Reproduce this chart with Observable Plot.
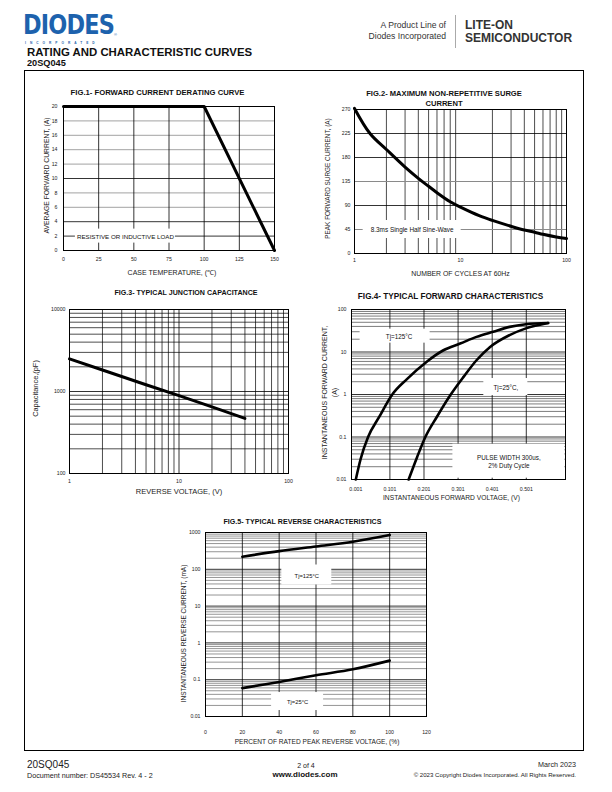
<!DOCTYPE html>
<html><head><meta charset="utf-8">
<script src="https://cdn.jsdelivr.net/npm/d3@7"></script>
<script src="https://cdn.jsdelivr.net/npm/@observablehq/plot@0.6"></script>
<style>
body{margin:0;background:#fff;font-family:"Liberation Sans",Arial,sans-serif;}
#page{position:relative;width:612px;height:792px;overflow:hidden;background:#fff;}
svg{overflow:visible;}
</style></head><body><div id="page"></div>
<script>
// ---------- DATA ----------
// Fig.1 Forward current derating curve
const fig1TempC = [0, 100, 150];
const fig1CurrentA = [20, 20, 0];
const fig1XTicks = [0, 25, 50, 75, 100, 125, 150];
const fig1YTicks = [0, 2, 4, 6, 8, 10, 12, 14, 16, 18, 20];
const fig1GridX = [25, 50, 75, 100, 125];
const fig1GridDarkY = [2, 4, 10];
const fig1GridLightY = [6, 8, 12, 14, 16, 18];
const fig1Note = [{text: "RESISTIVE OR INDUCTIVE LOAD", x: 44, y: 2}];

// Fig.2 Maximum non-repetitive surge current
const fig2Cycles = [1, 1.4, 2, 3, 4, 5, 6, 8, 10, 15, 20, 30, 40, 50, 60, 80, 100];
const fig2SurgeA = [272, 225, 195, 162, 141, 126, 114, 97, 87, 71, 62, 51, 44, 40, 36, 31, 28];
const fig2XTicks = [1, 10, 100];
const fig2YTicks = [0, 45, 90, 135, 180, 225, 270];
const fig2GridDarkY = [90, 180, 225];
const fig2GridLightY = [45, 135, 270];
const fig2Note = [{text: "8.3ms Single Half Sine-Wave", x: 3.5, y: 45}];

// Fig.3 Typical junction capacitance
const fig3Voltage = [1, 2, 5, 10, 20, 40];
const fig3CapPF = [2500, 1830, 1210, 890, 650, 470];
const fig3XTicks = [1, 10, 100];
const fig3YTicks = [100, 1000, 10000];

// Fig.4 Typical forward characteristics
const fig4V125 = [0.001, 0.015, 0.037, 0.07, 0.108, 0.151, 0.21, 0.258, 0.307, 0.355, 0.404, 0.452, 0.5, 0.565];
const fig4I125 = [0.01, 0.03, 0.1, 0.3, 1, 2.3, 6, 11, 15.8, 22.7, 30, 39, 45, 48];
const fig4V25 = [0.156, 0.181, 0.205, 0.239, 0.278, 0.317, 0.355, 0.394, 0.452, 0.5, 0.565];
const fig4I25 = [0.01, 0.034, 0.1, 0.3, 0.96, 2.6, 6.4, 13, 25, 36, 48];
const fig4XTicks = [0.001, 0.101, 0.201, 0.301, 0.401, 0.501];
const fig4YTicks = [0.01, 0.1, 1, 10, 100];
const fig4Note125 = [{text: "Tj=125°C", x: 0.128, y: 23.6}];
const fig4Note25 = [{text: "Tj=25°C,", x: 0.441, y: 1.5}];
const fig4NotePulse = [{text: "PULSE WIDTH 300us,\n2% Duty Cycle", x: 0.45, y: 0.027}];

// Fig.5 Typical reverse characteristics
const fig5Percent = [20, 40, 60, 80, 100];
const fig5I125mA = [220, 312, 417, 558, 850];
const fig5I25mA = [0.059, 0.087, 0.132, 0.192, 0.33];
const fig5XTicks = [0, 20, 40, 60, 80, 100, 120];
const fig5YTicks = [0.01, 0.1, 1, 10, 100, 1000];
const fig5GridX = [20, 40, 60, 80, 100];
const fig5Note125 = [{text: "Tj=125°C", x: 55, y: 70}];
const fig5Note25 = [{text: "Tj=25°C", x: 50, y: 0.0255}];

// ---------- HELPERS ----------
const page = document.getElementById("page");
const FONT = '"Liberation Sans", Arial, sans-serif';

function addText(str, x, y, o = {}) {
  const d = document.createElement("div");
  d.textContent = str;
  const tx = o.anchor === "middle" ? -50 : o.anchor === "end" ? -100 : 0;
  d.style.cssText = `position:absolute;left:${x}px;top:${y}px;font-size:${o.size||8}px;font-weight:${o.weight||"normal"};color:${o.color||"#000"};line-height:${o.lh||1};white-space:nowrap;transform:translate(${tx}%,-50%)${o.sx ? ` scaleX(${o.sx})` : ""};transform-origin:${o.anchor==="middle"?"center":o.anchor==="end"?"right":"left"} center;font-family:${o.family||FONT};letter-spacing:${o.ls||0}px;`;
  page.appendChild(d);
  return d;
}

function logMinor(lo, hi) {
  const out = [];
  for (let d = lo; d < hi; d *= 10) for (let k = 2; k <= 9; k++) out.push(d * k);
  return out;
}

// a white label box (breaks the grid) with the note text on top
function note(data, size, hw, hh, dxBox = 0) {
  return [
    Plot.rect(data, {x1: "x", x2: "x", y1: "y", y2: "y", fill: "white",
      insetLeft: -hw - dxBox, insetRight: -hw + dxBox, insetTop: -hh, insetBottom: -hh}),
    Plot.text(data, {x: "x", y: "y", text: "text", fontSize: size, lineHeight: 1.35, fontFamily: FONT, fill: "#111"})
  ];
}

function figure({frame, m = [45, 6, 10, 32], x, y, marks}) {
  const [l, t, r, b] = frame;
  const [ml, mt, mr, mb] = m;
  const svg = Plot.plot({
    width: r - l + ml + mr,
    height: b - t + mt + mb,
    marginLeft: ml, marginTop: mt, marginRight: mr, marginBottom: mb,
    x: {tickSize: 0, label: null, ...x},
    y: {tickSize: 0, label: null, ...y},
    style: {fontFamily: FONT, fontSize: "5.2px", color: "#222", background: "transparent", overflow: "visible"},
    marks
  });
  svg.style.position = "absolute";
  svg.style.left = (l - ml) + "px";
  svg.style.top = (t - mt) + "px";
  page.appendChild(svg);
}

function yLabel(str, dx, dy, size) {
  return Plot.text([str], {frameAnchor: "left", textAnchor: "middle", lineAnchor: "middle", text: d => d, rotate: -90, dx, dy, fontSize: size, fill: "#222", lineHeight: 1.5, fontFamily: FONT});
}
function xLabel(str, dy, dx, size) {
  return Plot.text([str], {frameAnchor: "bottom", textAnchor: "middle", lineAnchor: "middle", text: d => d, dy, dx, fontSize: size, fill: "#222", fontFamily: FONT});
}

// ---------- PAGE FRAME, HEADER, FOOTER ----------
const box = document.createElement("div");
box.style.cssText = "position:absolute;left:24px;top:70px;width:560px;height:681px;border:1px solid #000;box-sizing:border-box;";
page.appendChild(box);

addText("DIODES", 23, 24.8, {size: 27, weight: "bold", color: "#1d62ad", family: '"DejaVu Sans", sans-serif', sx: 0.83, ls: -1, lh: 0.9});
addText("®", 114, 35, {size: 4, color: "#1d62ad"});
addText("INCORPORATED", 25, 43.5, {size: 3.2, weight: "bold", color: "#1d62ad", ls: 4});
addText("A Product Line of", 446, 26, {size: 8.6, anchor: "end", color: "#333", lh: 1.1});
addText("Diodes Incorporated", 446, 37, {size: 8.6, anchor: "end", color: "#333", lh: 1.1});
const sep = document.createElement("div");
sep.style.cssText = "position:absolute;left:455px;top:15px;width:1px;height:33px;background:#aaa;";
page.appendChild(sep);
addText("LITE-ON", 465, 25.5, {size: 12, weight: "bold", color: "#333", lh: 0.95});
addText("SEMICONDUCTOR", 465, 38.5, {size: 12, weight: "bold", color: "#333", lh: 0.95});
addText("RATING AND CHARACTERISTIC CURVES", 27, 52.5, {size: 11.4, weight: "bold", color: "#111"});
addText("20SQ045", 27, 64, {size: 9.2, weight: "bold", color: "#111"});

addText("20SQ045", 27, 765, {size: 10, color: "#222"});
addText("Document number: DS45534 Rev. 4 - 2", 27, 776, {size: 7.2, color: "#222"});
addText("2 of 4", 306, 765, {size: 7, anchor: "middle", color: "#222"});
addText("www.diodes.com", 305, 775, {size: 8, weight: "bold", anchor: "middle", color: "#111"});
addText("March 2023", 576, 765, {size: 7.2, anchor: "end", color: "#222"});
addText("© 2023 Copyright Diodes Incorporated. All Rights Reserved.", 576, 775, {size: 6.1, anchor: "end", color: "#222"});

// ---------- TITLES ----------
addText("FIG.1- FORWARD CURRENT DERATING CURVE", 157.5, 92.5, {size: 7.7, weight: "bold", anchor: "middle", color: "#111"});
addText("FIG.2- MAXIMUM NON-REPETITIVE SURGE", 444, 94, {size: 7.6, weight: "bold", anchor: "middle", color: "#111"});
addText("CURRENT", 444, 104, {size: 7.6, weight: "bold", anchor: "middle", color: "#111"});
addText("FIG.3- TYPICAL JUNCTION CAPACITANCE", 186, 294, {size: 7.1, weight: "bold", anchor: "middle", color: "#111"});
addText("FIG.4- TYPICAL FORWARD CHARACTERISTICS", 450.5, 297, {size: 8.2, weight: "bold", anchor: "middle", color: "#111"});
addText("FIG.5- TYPICAL REVERSE CHARACTERISTICS", 302.5, 522.5, {size: 7.1, weight: "bold", anchor: "middle", color: "#111"});

// ---------- FIG 1 ----------
figure({
  frame: [63, 106, 274, 250],
  x: {domain: [0, 150], ticks: fig1XTicks, tickPadding: 6.5},
  y: {domain: [0, 20], ticks: fig1YTicks, tickPadding: 6},
  marks: [
    Plot.ruleY(fig1GridLightY, {stroke: "#8a8a8a", strokeWidth: 0.8}),
    Plot.ruleY(fig1GridDarkY, {stroke: "#000", strokeWidth: 0.8}),
    Plot.ruleX(fig1GridX, {stroke: "#000", strokeWidth: 0.8}),
    ...note(fig1Note, 6.2, 50, 7),
    Plot.frame({stroke: "#000", strokeWidth: 1}),
    Plot.line(fig1TempC.map((t, i) => ({t, a: fig1CurrentA[i]})), {x: "t", y: "a", stroke: "#000", strokeWidth: 3}),
    yLabel("AVERAGE FORWARD CURRENT, (A)", -18, -3, 6.8),
    xLabel("CASE TEMPERATURE, (℃)", 22, 3, 7)
  ]
});

// ---------- FIG 2 ----------
figure({
  frame: [354, 109, 566, 253],
  x: {type: "log", domain: [1, 100], ticks: fig2XTicks, tickFormat: d => String(d), tickPadding: 4.5},
  y: {domain: [0, 270], ticks: fig2YTicks, tickPadding: 4},
  marks: [
    Plot.ruleX(logMinor(1, 100), {stroke: "#000", strokeWidth: 0.7}),
    Plot.ruleY(fig2GridLightY, {stroke: "#8a8a8a", strokeWidth: 1}),
    Plot.ruleY(fig2GridDarkY, {stroke: "#000", strokeWidth: 0.8}),
    ...note(fig2Note, 6.4, 49, 9),
    Plot.frame({stroke: "#000", strokeWidth: 1}),
    Plot.line(fig2Cycles.map((c, i) => ({c, s: fig2SurgeA[i]})), {x: "c", y: "s", stroke: "#000", strokeWidth: 3, curve: "catmull-rom"}),
    yLabel("PEAK FORWARD SURGE CURRENT, (A)", -28, -3, 6.4),
    xLabel("NUMBER OF CYCLES AT 60Hz", 20, 0, 6.9)
  ]
});

// ---------- FIG 3 ----------
figure({
  frame: [69, 309, 288, 473],
  x: {type: "log", domain: [1, 100], ticks: fig3XTicks, tickFormat: d => String(d), tickPadding: 6},
  y: {type: "log", domain: [100, 10000], ticks: fig3YTicks, tickFormat: d => String(d), tickPadding: 4},
  marks: [
    Plot.ruleX(logMinor(1, 100), {stroke: "#000", strokeWidth: 0.7}),
    Plot.ruleY(logMinor(100, 10000), {stroke: "#000", strokeWidth: 0.7}),
    Plot.ruleY([1000], {stroke: "#000", strokeWidth: 0.8}),
    Plot.ruleX([10], {stroke: "#000", strokeWidth: 0.8}),
    Plot.frame({stroke: "#000", strokeWidth: 1}),
    Plot.line(fig3Voltage.map((v, i) => ({v, c: fig3CapPF[i]})), {x: "v", y: "c", stroke: "#000", strokeWidth: 3}),
    yLabel("Capacitance,(pF)", -35, -3, 7.4),
    xLabel("REVERSE VOLTAGE, (V)", 18, 0, 7.5)
  ]
});

// ---------- FIG 4 ----------
figure({
  frame: [351, 309, 565, 479],
  x: {domain: [-0.0116, 0.616], ticks: fig4XTicks, tickFormat: d => d.toFixed(3), tickPadding: 7.5},
  y: {type: "log", domain: [0.01, 100], ticks: fig4YTicks, tickFormat: d => String(d), tickPadding: 5},
  marks: [
    Plot.ruleY(logMinor(0.01, 100), {stroke: "#444", strokeWidth: 0.7}),
    Plot.ruleY(fig4YTicks, {stroke: "#000", strokeWidth: 0.8}),
    Plot.ruleX(fig4XTicks.slice(1), {stroke: "#000", strokeWidth: 0.8}),
    ...note(fig4Note125, 6.3, 35, 7, 4),
    ...note(fig4Note25, 6.3, 22, 8.5),
    ...note(fig4NotePulse, 6.3, 56, 17),
    Plot.frame({stroke: "#000", strokeWidth: 1}),
    Plot.line(fig4V125.map((v, i) => ({v, i: fig4I125[i]})), {x: "v", y: "i", stroke: "#000", strokeWidth: 2.6, curve: "monotone-x"}),
    Plot.line(fig4V25.map((v, i) => ({v, i: fig4I25[i]})), {x: "v", y: "i", stroke: "#000", strokeWidth: 2.6, curve: "monotone-x"}),
    yLabel("INSTANTANEOUS FORWARD CURRENT,\n(A)", -23, -2, 7),
    xLabel("INSTANTANEOUS FORWARD VOLTAGE, (V)", 18, -7, 6.7)
  ]
});

// ---------- FIG 5 ----------
figure({
  frame: [205, 532, 426, 716],
  x: {domain: [0, 120], ticks: fig5XTicks, tickPadding: 14},
  y: {type: "log", domain: [0.01, 1000], ticks: fig5YTicks, tickFormat: d => String(d), tickPadding: 5},
  marks: [
    Plot.ruleY(logMinor(0.01, 1000), {stroke: "#7a7a7a", strokeWidth: 0.8}),
    Plot.ruleY(fig5YTicks, {stroke: "#000", strokeWidth: 0.8}),
    Plot.ruleX(fig5GridX, {stroke: "#000", strokeWidth: 0.8}),
    ...note(fig5Note125, 5.8, 25, 10),
    ...note(fig5Note25, 5.8, 26, 9),
    Plot.frame({stroke: "#000", strokeWidth: 1}),
    Plot.line(fig5Percent.map((p, i) => ({p, v: fig5I125mA[i]})), {x: "p", y: "v", stroke: "#000", strokeWidth: 2.6, curve: "catmull-rom"}),
    Plot.line(fig5Percent.map((p, i) => ({p, v: fig5I25mA[i]})), {x: "p", y: "v", stroke: "#000", strokeWidth: 2.6, curve: "catmull-rom"}),
    yLabel("INSTANTANEOUS REVERSE CURRENT, (mA)", -23, 9, 6.5),
    xLabel("PERCENT OF RATED PEAK REVERSE VOLTAGE, (%)", 25, 1, 6.6)
  ]
});
</script></body></html>
